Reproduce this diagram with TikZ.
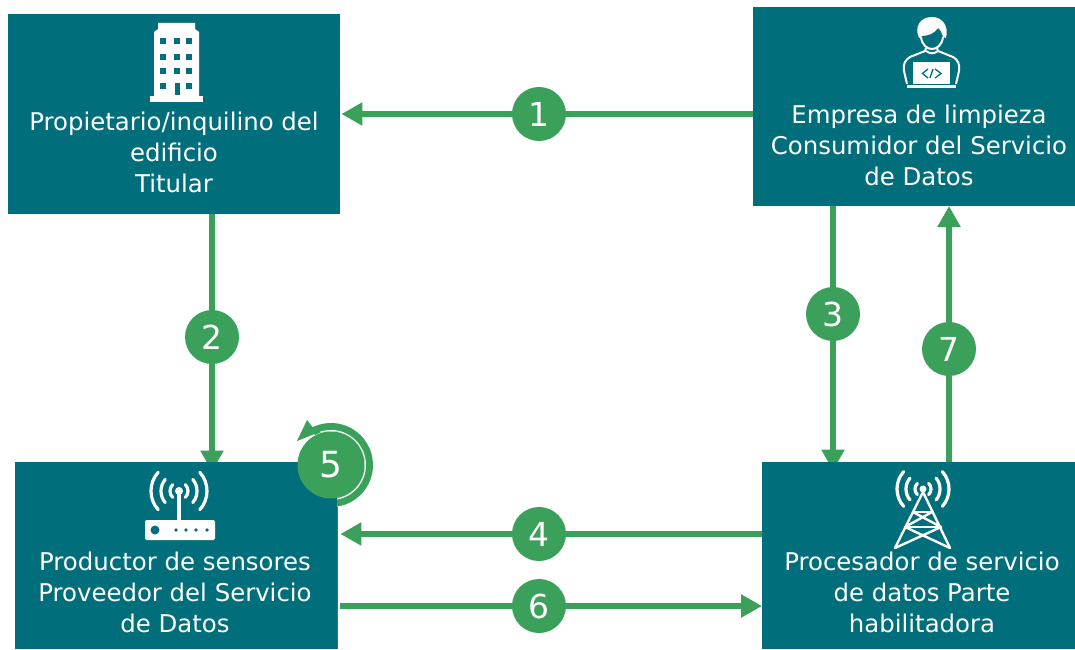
\documentclass[tikz,border=0pt]{standalone}
\usepackage{fontspec}
\setmainfont{DejaVu Sans}
\usetikzlibrary{arrows.meta,backgrounds}
\definecolor{tealbox}{HTML}{006F7B}
\definecolor{greenflow}{HTML}{3BA05A}
\definecolor{edgeline}{HTML}{5A5A9E}
\tikzset{
  actor/.style={fill=tealbox,draw=none,inner sep=0pt,anchor=south west},
  actortext/.style={text=white,align=center,font=\fontsize{24.4}{31}\selectfont,inner sep=0pt},
  flow/.style={draw=greenflow,line width=6.5pt,-{Triangle[length=21pt,width=22pt]}},
  stepnum/.style={circle,fill=greenflow,text=white,minimum size=54pt,inner sep=0pt,font=\fontsize{33}{33}\selectfont},
  iconline/.style={draw=white,line width=3.2pt,line cap=round},
  personline/.style={draw=white,line width=2pt},
  codeline/.style={draw=tealbox,line width=1.3pt},
}
\begin{document}
\begin{tikzpicture}[x=1pt,y=1pt]
\useasboundingbox (0,0) rectangle (1075,649);

\node[actor,minimum width=332pt,minimum height=200pt] (propietario) at (8,435) {};
\node[actor,minimum width=322pt,minimum height=199pt] (empresa) at (753,443) {};
\node[actor,minimum width=322pt,minimum height=187pt] (productor) at (15,0) {};
\node[actor,minimum width=313pt,minimum height=187pt] (procesador) at (762,0) {};

\node[actortext] (propietariotxt) at (174,497) {Propietario/inquilino del\\edificio\\Titular};
\node[actortext] (empresatxt) at (919,504) {Empresa de limpieza\\Consumidor del Servicio\\de Datos};
\node[actortext] (productortxt) at (175,57) {Productor de sensores\\Proveedor del Servicio\\de Datos};
\node[actortext] (procesadortxt) at (922,57) {Procesador de servicio\\de datos Parte\\habilitadora};

\node[stepnum] (uno) at (539,535) {1};
\node[stepnum] (dos) at (212,312) {2};
\node[stepnum] (tres) at (833,335) {3};
\node[stepnum] (cuatro) at (539,115) {4};
\node[stepnum] (seis) at (539,43) {6};
\node[stepnum] (siete) at (949,300) {7};
\node[stepnum,minimum size=67pt,font=\fontsize{36}{36}\selectfont] (cinco) at (331,184) {5};

% connectors
\begin{scope}[on background layer]
\draw[flow] (empresa.west |- uno) -- ([xshift=1pt]propietario.east |- uno);
\draw[flow] (propietario.south -| dos) -- ([yshift=-10pt]productor.north -| dos);
\draw[flow] (empresa.south -| tres) -- ([yshift=-9pt]procesador.north -| tres);
\draw[flow] (procesador.west |- cuatro) -- ([xshift=3pt]productor.east |- cuatro);
\draw[flow] ([xshift=3pt]productor.east |- seis) -- (procesador.west |- seis);
\draw[flow] (procesador.north -| siete) -- (empresa.south -| siete);
\end{scope}

% loop on 5
\begin{scope}[on background layer]
\draw[greenflow,line width=8pt] (cinco.center) ++(-82:38pt) arc (-82:118:38pt);
\fill[greenflow] (297,208) -- (307,229) -- (317,216) -- cycle;
\draw[white,line width=1pt] (cinco.center) ++(-82:34.5pt) arc (-82:108:34.5pt);
\end{scope}
\draw[edgeline,line width=1pt] (productor.south east) -- ([yshift=-45pt]productor.north east);

% building
\fill[white] (150,547) rectangle (203,553);
\fill[white] (154,553) -- (154,617) -- (158,620) -- (158,626) -- (195,626) -- (195,620) -- (199,617) -- (199,553) -- cycle;
\foreach \cx in {163,177,189}
  \foreach \cy in {608,592,578}
    \fill[tealbox] (\cx-3,\cy-3) rectangle (\cx+3,\cy+3);
\fill[tealbox] (160,560) rectangle (166,566);
\fill[tealbox] (186,560) rectangle (192,566);
\fill[tealbox] (174.5,554) rectangle (179.5,566);

% person
\fill[white] (919,611) .. controls (914,622) and (920,632) .. (932,632) .. controls (943,632) and (949,622) .. (946,611) -- (943,612) .. controls (942,616) and (940,620) .. (938,621) .. controls (935,616) and (928,613) .. (922,613) -- cycle;
\draw[personline] (921,612) .. controls (922,604) and (927,600) .. (932,600) .. controls (937,600) and (942,604) .. (943,612);
\draw[personline] (926,601) -- (925,598) -- (910,592) .. controls (905,589) and (903,585) .. (904,578) -- (907,565);
\draw[personline] (937,601) -- (938,598) -- (953,592) .. controls (958,589) and (960,585) .. (959,578) -- (956,565);
\draw[personline] (926,598) .. controls (930,595) and (934,595) .. (938,598);
\fill[white] (913,565) rectangle (950,587);
\fill[white] (907,561) rectangle (956,564);
\draw[codeline] (928,580) -- (922.5,575.5) -- (928,571);
\draw[codeline] (935,580) -- (941,575.5) -- (935,571);
\draw[codeline] (933,580) -- (930,571);

% router
\fill[white,rounded corners=2pt] (145,109) rectangle (215,129);
\fill[tealbox] (155,119) circle (4.5pt);
\foreach \cx in {176,186,196,207}
  \fill[tealbox] (\cx,119) circle (1.8pt);
\draw[iconline] (179,158) -- (179,129);
\fill[white] (179,158) circle (4pt);
\foreach \r/\a in {9/45,18/40,28/42}
{
  \draw[iconline] (179,158) ++(-\a:\r pt) arc (-\a:\a:\r pt);
  \draw[iconline] (179,158) ++(180-\a:\r pt) arc (180-\a:180+\a:\r pt);
}

% tower
\fill[white] (923,160) circle (3.5pt);
\foreach \r/\a in {8/45,17/40,26/42}
{
  \draw[iconline] (923,160) ++(-\a:\r pt) arc (-\a:\a:\r pt);
  \draw[iconline] (923,160) ++(180-\a:\r pt) arc (180-\a:180+\a:\r pt);
}
\draw[iconline,line width=2.4pt] (895,101) -- (923,157) -- (950,101);
\draw[iconline,line width=2.4pt] (913,137) -- (932,137) (905,122) -- (941,122);
\draw[iconline,line width=2.4pt] (913,137) -- (941,122) (932,137) -- (905,122);
\draw[iconline,line width=2.4pt] (905,122) -- (950,101) (941,122) -- (895,101);
\end{tikzpicture}
\end{document}
